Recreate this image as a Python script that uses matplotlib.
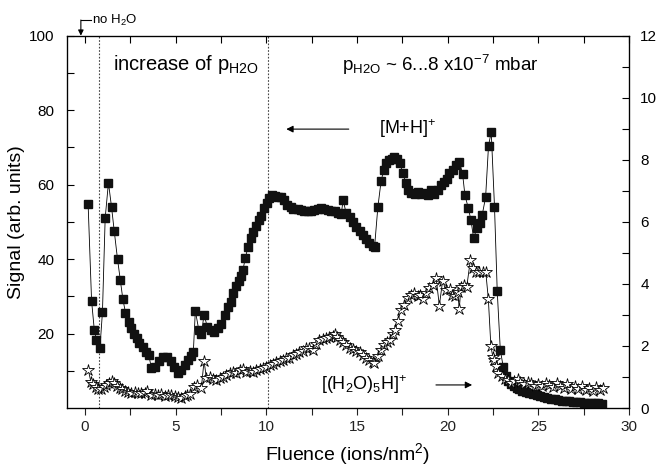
import matplotlib
matplotlib.use('Agg')
import matplotlib.pyplot as plt
from matplotlib.ticker import MultipleLocator, FixedLocator

plt.rcParams['font.family'] = ['Liberation Sans', 'DejaVu Sans']
plt.rcParams['mathtext.default'] = 'regular'

# [M+H]+ signal (left axis)
fluence_mh = [0.18, 0.37, 0.52, 0.64, 0.83, 0.97, 1.12, 1.30, 1.47, 1.62, 1.80, 1.95, 2.09, 2.24,
              2.42, 2.57, 2.72, 2.86, 3.01, 3.19, 3.38, 3.52, 3.67, 3.85, 4.07, 4.31, 4.55, 4.74,
              4.92, 5.14, 5.32, 5.50, 5.69, 5.83, 5.98, 6.09, 6.28, 6.42, 6.57, 6.75, 6.94, 7.12,
              7.34, 7.52, 7.71, 7.89, 8.03, 8.18, 8.33, 8.48, 8.62, 8.72, 8.84, 8.99, 9.14, 9.28,
              9.43, 9.58, 9.72, 9.87, 10.02, 10.17, 10.31, 10.46, 10.64, 10.82, 10.97, 11.16, 11.34,
              11.50, 11.74, 11.90, 12.10, 12.30, 12.46, 12.65, 12.83, 13.03, 13.20, 13.40, 13.58,
              13.77, 13.95, 14.13, 14.24, 14.40, 14.59, 14.77, 14.95, 15.14, 15.32, 15.50, 15.69,
              15.87, 15.97, 16.15, 16.33, 16.48, 16.62, 16.77, 16.92, 17.06, 17.21, 17.36, 17.54,
              17.69, 17.83, 18.00, 18.18, 18.35, 18.53, 18.71, 18.90, 19.08, 19.27, 19.45, 19.63,
              19.81, 19.95, 20.09, 20.28, 20.46, 20.64, 20.82, 20.95, 21.14, 21.28, 21.43, 21.61,
              21.76, 21.90, 22.09, 22.25, 22.40, 22.58, 22.73, 22.90, 23.06, 23.20, 23.35, 23.50,
              23.65, 23.80, 23.95, 24.10, 24.30, 24.50, 24.70, 24.90, 25.10, 25.30, 25.50, 25.70,
              25.90, 26.10, 26.30, 26.50, 26.70, 26.90, 27.10, 27.30, 27.50, 27.70, 27.90, 28.10,
              28.30, 28.50]
signal_mh = [54.7, 28.8, 21.0, 18.3, 16.0, 25.8, 51.0, 60.5, 54.0, 47.5, 40.0, 34.4, 29.4, 25.6,
             23.2, 21.4, 19.8, 18.7, 17.5, 16.5, 15.1, 14.3, 10.7, 11.1, 12.7, 13.6, 13.6, 12.7,
             11.1, 9.5, 10.2, 11.5, 12.9, 14.0, 15.1, 26.1, 21.0, 19.8, 25.1, 21.8, 21.0, 20.5,
             21.4, 22.6, 25.0, 27.2, 28.6, 30.8, 32.8, 34.2, 35.5, 37.2, 40.2, 43.2, 45.6, 47.4,
             49.0, 50.5, 51.6, 53.6, 55.0, 56.3, 57.2, 57.0, 56.8, 56.6, 55.9, 54.5, 53.9,
             53.5, 53.4, 53.2, 53.0, 52.8, 53.0, 53.2, 53.5, 53.7, 53.4, 53.2, 53.0,
             52.8, 52.4, 52.1, 55.9, 52.3, 51.2, 50.0, 48.7, 47.5, 46.5, 45.3, 44.2,
             43.5, 43.3, 53.9, 61.0, 63.9, 65.7, 66.6, 67.0, 67.3, 66.8, 65.7, 63.0,
             60.5, 58.5, 57.8, 57.6, 58.1, 57.5, 57.7, 57.3, 58.6, 57.6, 58.6, 59.9,
             60.8, 61.5, 63.0, 63.9, 65.3, 66.2, 62.9, 57.2, 53.6, 50.5, 45.6, 48.3,
             49.7, 51.8, 56.6, 70.4, 74.2, 54.1, 31.5, 15.6, 11.1, 8.5, 7.3, 6.5,
             5.9, 5.4, 5.0, 4.7, 4.3, 4.0, 3.7, 3.4, 3.1, 2.9, 2.7, 2.5,
             2.3, 2.2, 2.0, 1.9, 1.8, 1.7, 1.6, 1.5, 1.45, 1.4, 1.35, 1.3,
             1.25, 1.2]

# [(H2O)5H]+ signal (right axis)
fluence_w = [0.19, 0.33, 0.44, 0.59, 0.74, 0.88, 1.03, 1.18, 1.32, 1.47, 1.62, 1.76, 1.91, 2.06,
             2.20, 2.39, 2.57, 2.75, 2.94, 3.12, 3.30, 3.45, 3.67, 3.85, 4.04, 4.22, 4.40, 4.58,
             4.77, 4.95, 5.14, 5.32, 5.50, 5.65, 5.78, 6.02, 6.20, 6.42, 6.57, 6.70, 6.88, 7.06,
             7.25, 7.43, 7.61, 7.80, 7.98, 8.17, 8.35, 8.54, 8.72, 8.90, 9.08, 9.26, 9.45, 9.63,
             9.81, 10.00, 10.18, 10.36, 10.55, 10.73, 10.91, 11.10, 11.28, 11.46, 11.65, 11.83,
             12.01, 12.20, 12.38, 12.56, 12.75, 12.93, 13.11, 13.30, 13.48, 13.66, 13.77, 13.90,
             14.04, 14.22, 14.40, 14.59, 14.77, 14.95, 15.14, 15.32, 15.50, 15.69, 15.87, 15.96,
             16.15, 16.33, 16.50, 16.65, 16.80, 16.97, 17.10, 17.25, 17.43, 17.60, 17.80, 17.98,
             18.15, 18.35, 18.50, 18.62, 18.80, 18.99, 19.18, 19.36, 19.54, 19.72, 19.90, 20.10,
             20.25, 20.40, 20.55, 20.64, 20.73, 20.90, 21.05, 21.25, 21.38, 21.56, 21.75, 21.93,
             22.10, 22.24, 22.38, 22.49, 22.57, 22.66, 22.79, 22.97, 23.15, 23.30, 23.48, 23.67,
             23.85, 24.00, 24.20, 24.40, 24.60, 24.80, 25.00, 25.20, 25.40, 25.60, 25.80, 26.00,
             26.20, 26.40, 26.60, 26.80, 27.00, 27.20, 27.40, 27.60, 27.80, 28.00, 28.20, 28.40,
             28.55]
signal_w = [1.23, 0.85, 0.78, 0.67, 0.60, 0.60, 0.67, 0.74, 0.80, 0.88, 0.80, 0.70, 0.64, 0.60,
            0.56, 0.53, 0.50, 0.52, 0.50, 0.47, 0.50, 0.56, 0.42, 0.45, 0.42, 0.44, 0.40, 0.43,
            0.42, 0.40, 0.35, 0.32, 0.40, 0.42, 0.45, 0.69, 0.73, 0.64, 1.52, 0.96, 1.00, 0.93,
            0.91, 0.96, 1.00, 1.08, 1.12, 1.15, 1.12, 1.22, 1.27, 1.15, 1.20, 1.15, 1.22, 1.25,
            1.30, 1.33, 1.38, 1.42, 1.48, 1.52, 1.56, 1.60, 1.62, 1.70, 1.75, 1.80,
            1.85, 1.92, 1.95, 1.88, 2.05, 2.20, 2.22, 2.25, 2.28, 2.32, 2.39, 2.28,
            2.20, 2.12, 2.04, 1.93, 1.90, 1.85, 1.80, 1.70, 1.62, 1.56, 1.48, 1.45,
            1.67, 1.88, 2.04, 2.12, 2.20, 2.40, 2.50, 2.82, 3.15, 3.33, 3.55, 3.65,
            3.72, 3.60, 3.65, 3.50, 3.70, 3.87, 3.95, 4.20, 3.30, 4.10, 3.80, 3.85,
            3.65, 3.60, 3.75, 3.19, 3.90, 3.95, 3.90, 4.77, 4.52, 4.38, 4.38, 4.38,
            4.38, 3.52, 2.00, 1.64, 1.55, 1.34, 1.12, 1.02, 0.95, 0.90, 0.82, 0.86,
            0.92, 0.85, 0.78, 0.85, 0.80, 0.72, 0.78, 0.70, 0.82, 0.75, 0.68, 0.80,
            0.72, 0.65, 0.78, 0.62, 0.70, 0.62, 0.72, 0.58, 0.66, 0.55, 0.68, 0.58,
            0.65]

fig = plt.figure(figsize=(6.56, 4.69), dpi=100)
ax = fig.add_axes([0.1017, 0.130, 0.8573, 0.794])
ax2 = ax.twinx()

ax.plot(fluence_mh, signal_mh, color='black', lw=0.6, marker='s', ms=6.3,
        mfc='#111111', mec='#111111', zorder=3)
ax2.plot(fluence_w, signal_w, color='black', lw=0.6, marker='*', ms=9,
         mfc='white', mec='black', mew=0.6)

ax.set_xlim(-1, 30)
ax.set_ylim(0, 100)
ax2.set_ylim(0, 12)

ax.xaxis.set_major_locator(MultipleLocator(5))
ax.xaxis.set_minor_locator(MultipleLocator(2.5))
ax.yaxis.set_major_locator(FixedLocator([20, 40, 60, 80, 100]))
ax.yaxis.set_minor_locator(FixedLocator([10, 30, 50, 70, 90]))
ax2.yaxis.set_major_locator(MultipleLocator(2))
ax2.yaxis.set_minor_locator(MultipleLocator(1))

ax.tick_params(axis='x', which='both', direction='out', top=False, labelsize=11, length=5, width=0.8, colors='#222222')
ax.tick_params(axis='y', which='both', direction='in', labelsize=11, length=5, width=0.8, pad=9)
ax2.tick_params(axis='y', which='both', direction='in', labelsize=11, length=5, width=0.8, pad=8)
# top axis ticks pointing inward
sec = ax.secondary_xaxis('top')
sec.set_xticks([0, 5, 10, 15, 20, 25, 30])
sec.xaxis.set_minor_locator(MultipleLocator(2.5))
sec.tick_params(which='both', direction='in', length=5, width=0.8, labeltop=False)
for s in ax.spines.values():
    s.set_linewidth(0.9)
sec.spines['top'].set_visible(False)

ax.set_xlabel('Fluence (ions/nm$^2$)', fontsize=14, labelpad=5)
ax.set_ylabel('Signal (arb. units)', fontsize=14, labelpad=3)

# region markers
ax.axvline(0.79, color='#444444', ls=(0, (1.5, 1.5)), lw=0.8)
ax.axvline(10.09, color='#444444', ls=(0, (1.5, 1.5)), lw=0.8)

ax.text(1.55, 92.2, 'increase of p$_{H2O}$', fontsize=14.5, va='center', ha='left')
ax.text(14.2, 92.2, 'p$_{H2O}$ ~ 6...8 x10$^{-7}$ mbar', fontsize=13.5, va='center', ha='left')
ax.text(16.2, 75.0, '[M+H]$^{+}$', fontsize=13, va='center', ha='left')
ax.annotate('', xy=(10.95, 74.9), xytext=(14.7, 74.9),
            arrowprops=dict(arrowstyle='-|>', color='black', lw=0.8, mutation_scale=10))
ax.text(13.0, 6.2, '[(H$_2$O)$_5$H]$^{+}$', fontsize=13, va='center', ha='left')
ax.annotate('', xy=(21.5, 6.2), xytext=(19.2, 6.2),
            arrowprops=dict(arrowstyle='-|>', color='black', lw=0.8, mutation_scale=10))

# "no H2O" marker above the plot
ax.annotate('', xy=(-0.22, 100), xytext=(-0.22, 104.2), annotation_clip=False,
            arrowprops=dict(arrowstyle='-|>', color='black', lw=0.8, mutation_scale=8,
                            shrinkA=0, shrinkB=0))
ax.plot([-0.22, 0.35], [104.2, 104.2], color='black', lw=0.8, clip_on=False)
ax.text(0.38, 104.0, 'no H$_2$O', fontsize=9.5, va='center', ha='left')

fig.savefig('out.png', dpi=100)
